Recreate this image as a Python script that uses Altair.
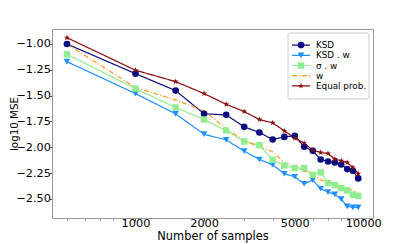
import altair as alt
import pandas as pd

n_samples = [500, 1000, 1500, 2000, 2500, 3000, 3500, 4000, 4500, 5000,
             5500, 6000, 6500, 7000, 7500, 8000, 8500, 9000, 9500]

ksd = [-1.000, -1.287, -1.451, -1.676, -1.686, -1.802, -1.857, -1.924, -1.899, -1.889,
       -1.995, -2.034, -2.118, -2.137, -2.147, -2.166, -2.211, -2.227, -2.301]
ksd_w = [-1.171, -1.480, -1.676, -1.873, -1.928, -2.037, -2.118, -2.169, -2.256, -2.285,
         -2.353, -2.317, -2.401, -2.433, -2.456, -2.501, -2.572, -2.581, -2.581]
sigma_w = [-1.100, -1.432, -1.615, -1.731, -1.837, -1.944, -1.979, -2.121, -2.176, -2.201,
           -2.201, -2.266, -2.243, -2.346, -2.366, -2.395, -2.417, -2.459, -2.469]
w_only = [-1.000, -1.422, -1.541, -1.647, -1.818, -1.934, -1.995, -2.043, -2.150, -2.185,
          -2.233, -2.250, -2.317, -2.337, -2.350, -2.375, -2.388, -2.417, -2.452]
equal_prob = [-0.939, -1.254, -1.364, -1.480, -1.583, -1.654, -1.731, -1.763, -1.841, -1.911,
              -1.960, -2.027, -2.050, -2.060, -2.114, -2.130, -2.147, -2.195, -2.256]

series_names = ["KSD", "KSD . w", "σ . w", "w", "Equal prob."]
series_values = [ksd, ksd_w, sigma_w, w_only, equal_prob]
series_colors = ["#0a0a80", "#1e90ff", "#90ee90", "#ff9a1a", "#8b0a0a"]
marker_names = ["KSD", "KSD . w", "σ . w", "Equal prob."]
star = ("M0,-1L0.2245,-0.309L0.951,-0.309L0.363,0.118L0.588,0.809L0,0.382"
        "L-0.588,0.809L-0.363,0.118L-0.951,-0.309L-0.2245,-0.309Z")
marker_shapes = ["circle", "triangle-down", "square", star]

x_ticks = [1000, 2000, 5000, 10000]
x_minor = [500, 600, 700, 800, 900, 3000, 4000, 6000, 7000, 8000, 9000]
y_ticks = [-1.0, -1.25, -1.5, -1.75, -2.0, -2.25, -2.5]

rows = []
for name, vals in zip(series_names, series_values):
    for i, (n, v) in enumerate(zip(n_samples, vals)):
        rows.append({"n": n, "value": v, "series": name, "order": i})
df = pd.DataFrame(rows)
df_markers = df[df["series"] != "w"]
legend_df = pd.DataFrame({"series": series_names})
legend_marker_df = legend_df[legend_df["series"] != "w"]

FONT = "DejaVu Sans"
color = alt.Color("series:N", scale=alt.Scale(domain=series_names, range=series_colors), legend=None)
dash = alt.StrokeDash("series:N", scale=alt.Scale(domain=series_names,
                      range=[[1, 0], [1, 0], [1, 0], [5, 2, 1, 2], [1, 0]]), legend=None)
shape = alt.Shape("series:N", scale=alt.Scale(domain=marker_names, range=marker_shapes), legend=None)
size = alt.Size("series:N", scale=alt.Scale(domain=marker_names, range=[44, 40, 36, 30]), legend=None)

xscale = alt.Scale(type="log", domain=[430, 11030], nice=False)
yscale = alt.Scale(domain=[-2.684, -0.855], nice=False, zero=False)

lines = alt.Chart(df).mark_line(strokeWidth=1.2).encode(
    x=alt.X("n:Q", scale=xscale,
            axis=alt.Axis(values=x_ticks, format="d", title="Number of samples",
                          orient="bottom", grid=False, tickSize=3, labelPadding=-4,
                          titlePadding=2, labelFontSize=11.3, titleFontSize=11.4,
                          titleFontWeight="normal", labelColor="#000", titleColor="#000",
                          domainColor="#999", tickColor="#555", labelFont=FONT, titleFont=FONT,
                          labelFlush=False)),
    y=alt.Y("value:Q", scale=yscale,
            axis=alt.Axis(values=y_ticks, format=".2f", title="log10 MSE", grid=False,
                          tickSize=2.5, labelPadding=-1, labelFontSize=11.3,
                          titleFontSize=10.3, titleFontWeight="normal", labelColor="#000",
                          titleColor="#000", domainColor="#999", tickColor="#555",
                          labelFont=FONT, titleFont=FONT,
                          titleX=-34.5, titleY=94.5, titleAngle=270,
                          titleAlign="center", titleBaseline="alphabetic")),
    color=color,
    strokeDash=dash,
    detail="series:N",
    order="order:Q",
)

points = alt.Chart(df_markers).mark_point(filled=True, opacity=1).encode(
    x=alt.X("n:Q", scale=xscale, axis=None),
    y=alt.Y("value:Q", scale=yscale, axis=None),
    color=color,
    shape=shape,
    size=size,
)

minor = alt.Chart(pd.DataFrame({"n": x_minor})).mark_tick(opacity=0).encode(
    x=alt.X("n:Q", scale=xscale,
            axis=alt.Axis(values=x_minor, labels=False, title=None, orient="bottom",
                          tickSize=2, grid=False, domain=False, tickColor="#777")),
)

leg_y = alt.Y("series:N", scale=alt.Scale(domain=series_names, range=[11, 62]), axis=None)

legend_box = alt.Chart(alt.Data(values=[{"a": 1}])).mark_rect(
    fill="white", stroke="#cccccc", strokeWidth=1, cornerRadius=2
).encode(x=alt.value(236), x2=alt.value(317), y=alt.value(4), y2=alt.value(70))

legend_lines = alt.Chart(legend_df).mark_rule(strokeWidth=1.2).encode(
    x=alt.value(240), x2=alt.value(258), y=leg_y, color=color, strokeDash=dash,
)
legend_marks = alt.Chart(legend_marker_df).mark_point(filled=True, opacity=1).encode(
    x=alt.value(249), y=leg_y, color=color, shape=shape, size=size,
)
legend_text = alt.Chart(legend_df).mark_text(
    align="left", baseline="middle", fontSize=8.8, font=FONT, color="#000"
).encode(x=alt.value(264), y=leg_y, text="series:N")

chart = alt.layer(
    minor, lines, points, legend_box, legend_lines, legend_marks, legend_text
).resolve_scale(y="independent").resolve_axis(x="independent").properties(
    width=321, height=189,
    autosize=alt.AutoSizeParams(type="none"),
    padding={"left": 44, "top": 21, "right": 34, "bottom": 30},
).configure_view(stroke="#999", strokeWidth=1)

chart.save("out.html", embed_options={"renderer": "svg", "actions": False})
